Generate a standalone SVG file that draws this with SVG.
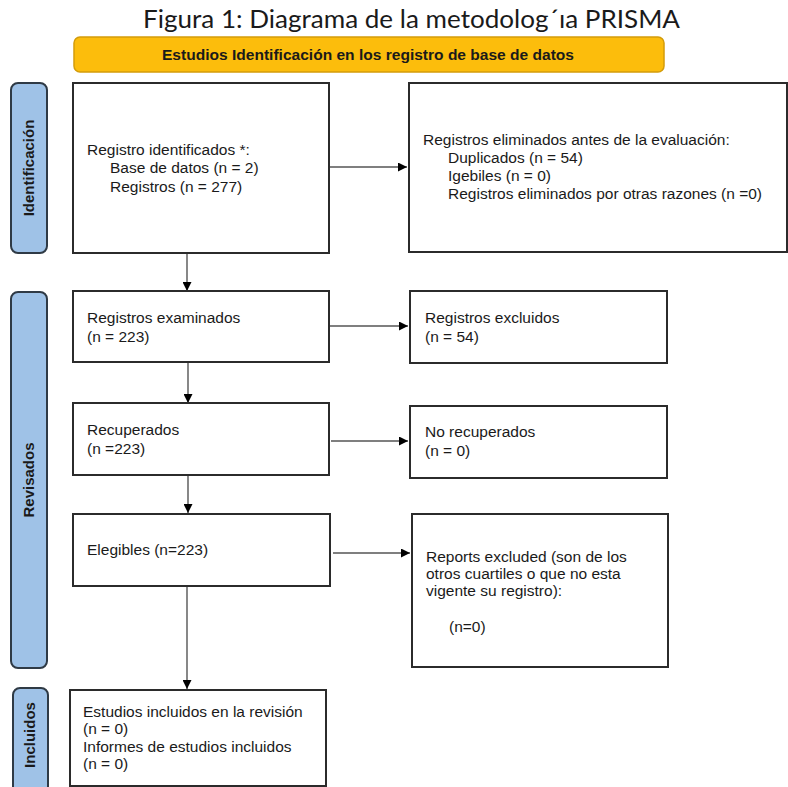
<svg xmlns="http://www.w3.org/2000/svg" width="788" height="787" viewBox="0 0 788 787">
<style>
  .box { fill: #ffffff; stroke: #2b2b2b; stroke-width: 2; }
  .side { fill: #9fc2e7; stroke: #2f3a45; stroke-width: 2; }
  .t { font-family: "Liberation Sans", Arial, sans-serif; font-size: 15.5px; fill: #1a1a1a; }
  .st { font-family: "Liberation Sans", Arial, sans-serif; font-size: 15px; font-weight: bold; fill: #1a1a1a; }
  .conn { stroke: #555555; stroke-width: 1.4; fill: none; marker-end: url(#arr); }
</style>
<defs>
  <marker id="arr" viewBox="0 0 10 10" refX="10" refY="5" markerWidth="9" markerHeight="9" markerUnits="userSpaceOnUse" orient="auto">
    <path d="M0,0 L10,5 L0,10 z" fill="#000000"/>
  </marker>
</defs>
<rect width="788" height="787" fill="#ffffff"/>

<text x="143" y="28" font-family="Lato, 'Open Sans', sans-serif" font-size="25" fill="#1a1a1a" textLength="537" lengthAdjust="spacingAndGlyphs">Figura 1: Diagrama de la metodolog´ıa PRISMA</text>

<g id="banner">
  <rect x="74" y="37" width="590" height="35" rx="6" fill="#fcbd0c" stroke="#d39c0a" stroke-width="1.5"/>
  <text x="162" y="60" font-family="'Liberation Sans', Arial, sans-serif" font-size="15" font-weight="bold" fill="#1a1a1a" textLength="412" lengthAdjust="spacingAndGlyphs">Estudios Identificación en los registro de base de datos</text>
</g>

<g id="side-identificacion">
  <rect class="side" x="11" y="83" width="36" height="170" rx="7"/>
  <text class="st" transform="translate(34,168) rotate(-90)" text-anchor="middle">Identificación</text>
</g>
<g id="side-revisados">
  <rect class="side" x="11" y="292" width="36" height="376" rx="7"/>
  <text class="st" transform="translate(34,480) rotate(-90)" text-anchor="middle">Revisados</text>
</g>
<g id="side-incluidos">
  <rect class="side" x="13" y="688" width="35" height="110" rx="7"/>
  <text class="st" transform="translate(35,735) rotate(-90)" text-anchor="middle">Incluidos</text>
</g>

<g id="connectors">
  <line class="conn" x1="329" y1="167" x2="407" y2="167"/>
  <line class="conn" x1="187" y1="253" x2="187" y2="291"/>
  <line class="conn" x1="329" y1="326" x2="408" y2="326"/>
  <line class="conn" x1="188" y1="362" x2="188" y2="403"/>
  <line class="conn" x1="331" y1="441" x2="408" y2="441"/>
  <line class="conn" x1="188" y1="475" x2="188" y2="513"/>
  <line class="conn" x1="333" y1="553" x2="410" y2="553"/>
  <line class="conn" x1="187" y1="586" x2="187" y2="689"/>
</g>

<g id="n-identificados">
  <rect class="box" x="73" y="83" width="256" height="170"/>
  <text class="t" x="87" y="155">Registro identificados *:</text>
  <text class="t" x="110" y="173">Base de datos (n = 2)</text>
  <text class="t" x="110" y="192">Registros (n = 277)</text>
</g>

<g id="n-eliminados">
  <rect class="box" x="409" y="83" width="378" height="169"/>
  <text class="t" x="423" y="145">Registros eliminados antes de la evaluación:</text>
  <text class="t" x="448" y="163">Duplicados  (n = 54)</text>
  <text class="t" x="448" y="181">Igebiles  (n = 0)</text>
  <text class="t" x="448" y="199">Registros eliminados por otras razones  (n =0)</text>
</g>

<g id="n-examinados">
  <rect class="box" x="73" y="291" width="256" height="71"/>
  <text class="t" x="87" y="323">Registros examinados</text>
  <text class="t" x="87" y="342">(n = 223)</text>
</g>

<g id="n-excluidos">
  <rect class="box" x="410" y="291" width="257" height="72"/>
  <text class="t" x="425" y="323">Registros excluidos</text>
  <text class="t" x="425" y="342">(n = 54)</text>
</g>

<g id="n-recuperados">
  <rect class="box" x="73" y="403" width="256" height="72"/>
  <text class="t" x="87" y="435">Recuperados</text>
  <text class="t" x="87" y="454">(n =223)</text>
</g>

<g id="n-norecuperados">
  <rect class="box" x="410" y="406" width="257" height="72"/>
  <text class="t" x="425" y="437">No recuperados</text>
  <text class="t" x="425" y="456">(n = 0)</text>
</g>

<g id="n-elegibles">
  <rect class="box" x="73" y="514" width="257" height="72"/>
  <text class="t" x="87" y="555">Elegibles (n=223)</text>
</g>

<g id="n-reports">
  <rect class="box" x="412" y="514" width="256" height="153"/>
  <text class="t" x="426" y="562">Reports excluded (son de los</text>
  <text class="t" x="426" y="579">otros cuartiles o que no esta</text>
  <text class="t" x="426" y="596">vigente su registro):</text>
  <text class="t" x="449" y="632">(n=0)</text>
</g>

<g id="n-incluidos">
  <rect class="box" x="70" y="690" width="256" height="96"/>
  <text class="t" x="83" y="717">Estudios incluidos en la revisión</text>
  <text class="t" x="83" y="734">(n = 0)</text>
  <text class="t" x="83" y="752">Informes de estudios incluidos</text>
  <text class="t" x="83" y="769">(n = 0)</text>
</g>
</svg>
